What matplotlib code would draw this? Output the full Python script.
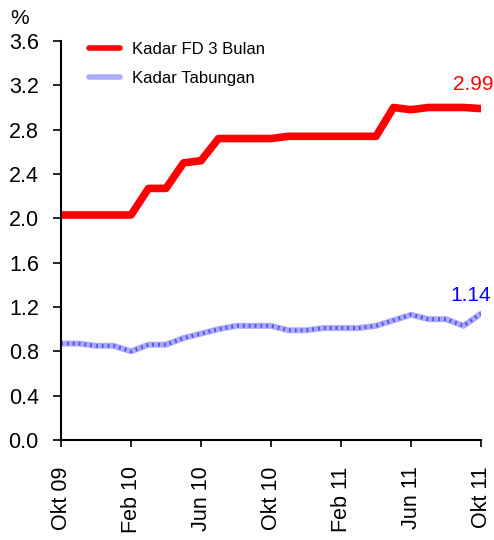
import numpy as np
import matplotlib.pyplot as plt

plt.rcParams['font.family'] = ['Liberation Sans', 'DejaVu Sans']

# monthly data, Okt 09 .. Okt 11
fd_3bulan = [2.03, 2.03, 2.03, 2.03, 2.03, 2.27, 2.27, 2.50, 2.52, 2.72,
             2.72, 2.72, 2.72, 2.74, 2.74, 2.74, 2.74, 2.74, 2.74, 3.00,
             2.98, 3.00, 3.00, 3.00, 2.99]
tabungan = [0.87, 0.87, 0.85, 0.85, 0.80, 0.86, 0.86, 0.92, 0.96, 1.00,
            1.03, 1.03, 1.03, 0.99, 0.99, 1.01, 1.01, 1.01, 1.03, 1.08,
            1.13, 1.09, 1.09, 1.03, 1.14]
tick_pos = [0, 4, 8, 12, 16, 20, 24]
tick_labels = ['Okt 09', 'Feb 10', 'Jun 10', 'Okt 10', 'Feb 11', 'Jun 11', 'Okt 11']
y_ticks = [0.0, 0.4, 0.8, 1.2, 1.6, 2.0, 2.4, 2.8, 3.2, 3.6]


def main():
    x = np.arange(len(fd_3bulan))
    fig = plt.figure(figsize=(4.94, 5.40), dpi=100)
    ax = fig.add_axes([0.1235, 0.1852, 0.8502, 0.7389])

    ax.plot(x, fd_3bulan, color='#ff0000', lw=5.5, solid_capstyle='round',
            label='Kadar FD 3 Bulan')
    # dotted-texture look for the savings rate line
    ax.plot(x, tabungan, color='#acacff', lw=4.3, solid_capstyle='round',
            label='Kadar Tabungan')
    ax.plot(x, tabungan, color='#5656f2', lw=2.8, ls=(0, (0.5, 1.0)))

    ax.set_xlim(0, 24)
    ax.set_ylim(0, 3.6)
    ax.set_yticks(y_ticks)
    ax.set_yticklabels([f'{v:.1f}' for v in y_ticks])
    ax.set_xticks(tick_pos)
    ax.set_xticklabels(tick_labels, rotation=90)
    ax.tick_params(labelsize=15.5, width=1.2, color='black')
    ax.tick_params(axis='y', length=6, pad=10)
    ax.tick_params(axis='x', direction='out', length=5, pad=14)
    for s in ['top', 'right']:
        ax.spines[s].set_visible(False)
    for s in ['left', 'bottom']:
        ax.spines[s].set_linewidth(1.5)

    ax.annotate(f'{fd_3bulan[-1]:.2f}', xy=(x[-1], fd_3bulan[-1]),
                xytext=(9, 17), textcoords='offset points', color='#ff0000',
                fontsize=15, ha='right', va='center')
    ax.annotate(f'{tabungan[-1]:.2f}', xy=(x[-1], tabungan[-1]),
                xytext=(7, 13), textcoords='offset points', color='#0000ff',
                fontsize=15, ha='right', va='center')
    fig.text(0.02, 0.965, '%', fontsize=15, ha='left', va='center')

    leg = ax.legend(loc='upper left', bbox_to_anchor=(0.03, 1.035), frameon=False,
                    fontsize=12, handlelength=1.9, handletextpad=0.7,
                    labelspacing=0.85)
    for ln in leg.get_lines():
        ln.set_linewidth(4)

    fig.savefig('out.png', dpi=100)


if __name__ == "__main__":
    main()
